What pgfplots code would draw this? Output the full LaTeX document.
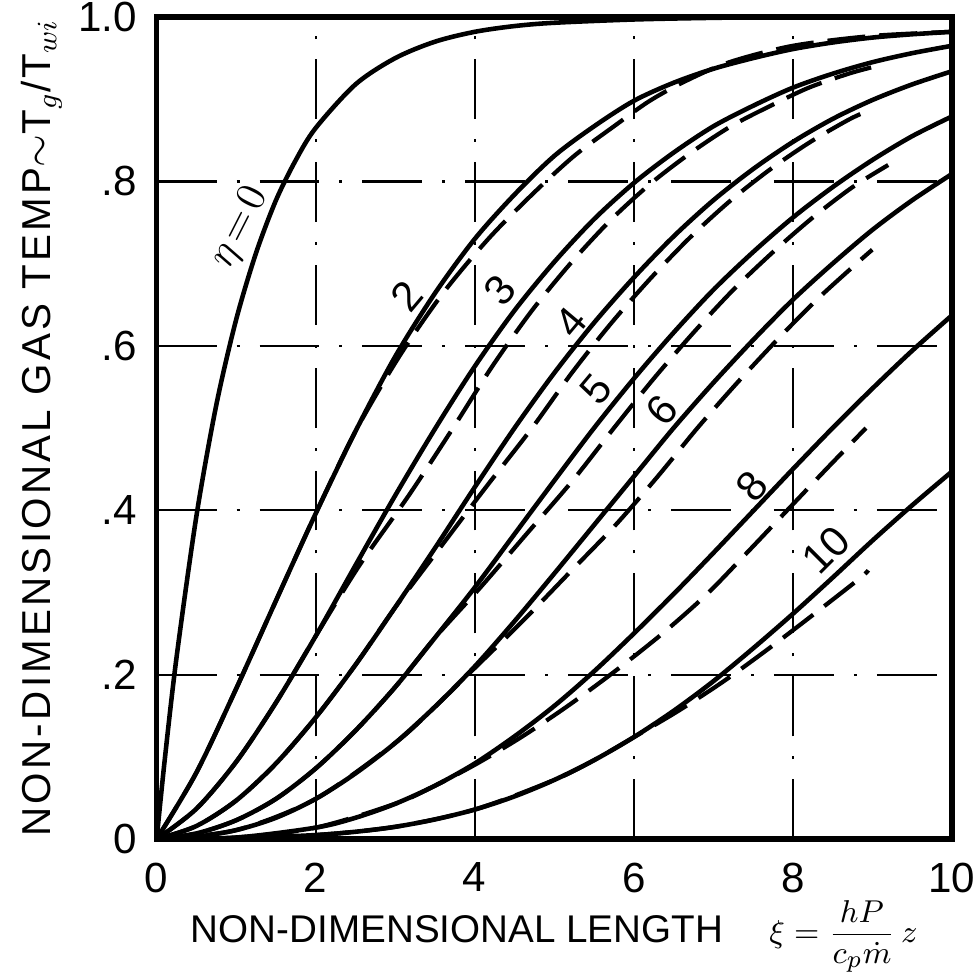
\documentclass[border=0pt]{standalone}
\usepackage{pgfplots}
\pgfplotsset{compat=1.18}
\usepackage{fontspec}
\setmainfont{Liberation Sans}
\newfontfamily\ylabfont[LetterSpace=8]{Liberation Sans}
\begin{document}
\begin{tikzpicture}
\begin{axis}[
  scale only axis, width=7.96cm, height=8.23cm,
  xmin=0, xmax=10, ymin=0, ymax=1,
  xtick={0,2,4,6,8,10}, xticklabels={0,2,4,6,8,10},
  ytick={0,0.2,0.4,0.6,0.8,1}, yticklabels={0,.2,.4,.6,.8,1.0},
  tick style={draw=none},
  ticklabel style={font=\fontsize{12}{14}\selectfont, inner sep=0.5pt},
  xticklabel style={yshift=-6pt},
  yticklabel style={xshift=-5pt},
  axis line style={line width=1.6pt},
  grid=major,
  grid style={black, line width=0.6pt, dash pattern=on 6mm off 2mm on 0.3mm off 2mm},
  xlabel={\fontsize{11}{13}\selectfont NON-DIMENSIONAL LENGTH\hspace{1.2em}{\fontsize{9.5}{11}\selectfont$\displaystyle\xi = \frac{hP}{c_p\dot{m}}\,z$}},
  ylabel={\ylabfont\fontsize{11.5}{13}\selectfont NON-DIMENSIONAL GAS TEMP$\sim$T$_g$/T$_{wi}$},
  xlabel style={at={(axis description cs:0.5,-0.118)}, anchor=center, inner sep=0pt},
  ylabel style={at={(axis description cs:-0.145,0.5)}, anchor=center, inner sep=0pt},
  clip=false,
  sol/.style={black, line width=1.3pt, smooth, line cap=round},
  das/.style={black, line width=1.2pt, smooth, dash pattern=on 3.8mm off 1.4mm},
]
\path (rel axis cs:-0.197,-0.1665) rectangle (rel axis cs:1.026,1.0207);
% eta = 0
\addplot[sol] table {
0 0
0.1 0.095
0.25 0.221
0.5 0.393
0.75 0.528
1 0.632
1.25 0.713
1.5 0.777
1.75 0.826
2 0.865
2.5 0.918
3 0.950
3.5 0.970
4 0.982
4.5 0.989
5 0.993
6 0.997
7 0.999
8 1.0
10 1.0
};
% eta = 2
\addplot[sol] table {
0 0
0.5 0.081
1 0.183
1.5 0.290
2 0.396
2.5 0.496
3 0.587
3.5 0.664
4 0.730
4.5 0.784
5 0.831
5.5 0.867
6 0.898
6.5 0.920
7 0.937
7.5 0.950
8 0.961
8.5 0.969
9 0.975
9.5 0.979
10 0.982
};
\addplot[das] table {
0 0
0.5 0.081
1 0.183
1.5 0.290
2 0.396
2.5 0.496
3.05 0.587
3.6 0.664
4.17 0.730
4.72 0.784
5.25 0.831
5.75 0.867
6.2 0.898
6.65 0.922
7.2 0.945
8 0.965
9 0.977
10 0.982
};
% eta = 3
\addplot[sol] table {
0 0
0.5 0.037
1 0.094
1.5 0.166
2 0.247
2.5 0.333
3 0.418
3.5 0.499
4 0.575
4.5 0.643
5 0.702
5.5 0.754
6 0.798
6.5 0.835
7 0.867
7.5 0.892
8 0.914
8.5 0.931
9 0.945
9.5 0.956
10 0.965
};
\addplot[das] table {
0 0
0.5 0.037
1 0.094
1.5 0.166
2 0.247
2.55 0.333
3.17 0.418
3.72 0.499
4.22 0.575
4.72 0.643
5.22 0.702
5.72 0.754
6.22 0.798
6.72 0.835
7.22 0.867
7.72 0.892
8.2 0.914
8.7 0.931
9.0 0.939
};
% eta = 4
\addplot[sol] table {
0 0
0.5 0.016
1 0.047
1.5 0.092
2 0.148
2.5 0.212
3 0.282
3.5 0.354
4 0.428
4.5 0.500
5 0.567
5.5 0.628
6 0.683
6.5 0.733
7 0.777
7.5 0.815
8 0.848
8.5 0.876
9 0.899
9.5 0.918
10 0.934
};
\addplot[das] table {
0 0
0.5 0.016
1 0.047
1.5 0.092
2 0.148
2.5 0.212
3 0.282
3.56 0.354
4.14 0.428
4.72 0.500
5.22 0.567
5.72 0.628
6.22 0.683
6.72 0.733
7.22 0.777
7.72 0.815
8.22 0.848
8.72 0.876
9.0 0.888
};
% eta = 5
\addplot[sol] table {
0 0
0.5 0.007
1 0.023
1.5 0.049
2 0.086
2.5 0.132
3 0.185
3.5 0.245
4 0.306
4.5 0.371
5 0.436
5.5 0.500
6 0.560
6.5 0.616
7 0.668
7.5 0.714
8 0.756
8.5 0.793
9 0.826
9.5 0.855
10 0.879
};
\addplot[das] table {
0 0
0.5 0.007
1 0.023
1.5 0.049
2 0.086
2.5 0.132
3 0.185
3.5 0.245
4.07 0.306
4.65 0.371
5.23 0.436
5.75 0.500
6.25 0.560
6.75 0.616
7.25 0.668
7.75 0.714
8.25 0.756
8.75 0.793
9.2 0.820
};
% eta = 6
\addplot[sol] table {
0 0
0.5 0.003
1 0.011
1.5 0.026
2 0.049
2.5 0.080
3 0.117
3.5 0.161
4 0.210
4.5 0.265
5 0.323
5.5 0.382
6 0.441
6.5 0.500
7 0.555
7.5 0.607
8 0.656
8.5 0.700
9 0.741
9.5 0.777
10 0.809
};
\addplot[das] table {
0 0
1 0.011
2 0.049
3 0.117
3.5 0.161
4.02 0.210
4.6 0.265
5.18 0.323
5.77 0.382
6.3 0.441
6.8 0.500
7.3 0.555
7.8 0.607
8.3 0.656
8.8 0.700
9.0 0.717
};
% eta = 8
\addplot[sol] table {
0 0
1 0.002
2 0.014
2.5 0.026
3 0.043
3.5 0.065
4 0.092
4.5 0.125
5 0.162
5.5 0.204
6 0.250
6.5 0.298
7 0.348
7.5 0.399
8 0.450
8.5 0.500
9 0.548
9.5 0.594
10 0.637
};
\addplot[das] table {
0 0
1 0.002
2 0.014
3 0.043
3.5 0.065
4.03 0.092
4.6 0.125
5.17 0.162
5.76 0.204
6.36 0.250
6.92 0.298
7.42 0.348
7.92 0.399
8.42 0.450
8.92 0.500
};
% eta = 10
\addplot[sol] table {
0 0
1 0.001
2 0.005
2.5 0.009
3 0.015
3.5 0.024
4 0.036
4.5 0.052
5 0.072
5.5 0.096
6 0.124
6.5 0.156
7 0.192
7.5 0.232
8 0.274
8.5 0.318
9 0.363
9.5 0.406
10 0.447
};
\addplot[das] table {
0 0
1 0.001
2 0.005
3 0.015
4 0.036
5 0.072
5.5 0.096
6.0 0.124
6.56 0.156
7.13 0.192
7.7 0.232
8.27 0.274
8.84 0.317
8.95 0.327
};
% curve labels
\node[rotate=63, font=\fontsize{12}{14}\selectfont] at (axis cs:1.05,0.744) {$\eta\!=\!0$};
\node[rotate=50, font=\fontsize{12}{14}\selectfont] at (axis cs:3.14,0.660) {2};
\node[rotate=50, font=\fontsize{12}{14}\selectfont] at (axis cs:4.32,0.668) {3};
\node[rotate=50, font=\fontsize{12}{14}\selectfont] at (axis cs:5.21,0.629) {4};
\node[rotate=50, font=\fontsize{12}{14}\selectfont] at (axis cs:5.53,0.547) {5};
\node[rotate=50, font=\fontsize{12}{14}\selectfont] at (axis cs:6.36,0.522) {6};
\node[rotate=50, font=\fontsize{12}{14}\selectfont] at (axis cs:7.49,0.429) {8};
\node[rotate=45, font=\fontsize{12}{14}\selectfont, inner sep=1pt] at (axis cs:8.42,0.352) {10};
\end{axis}
\end{tikzpicture}
\end{document}
